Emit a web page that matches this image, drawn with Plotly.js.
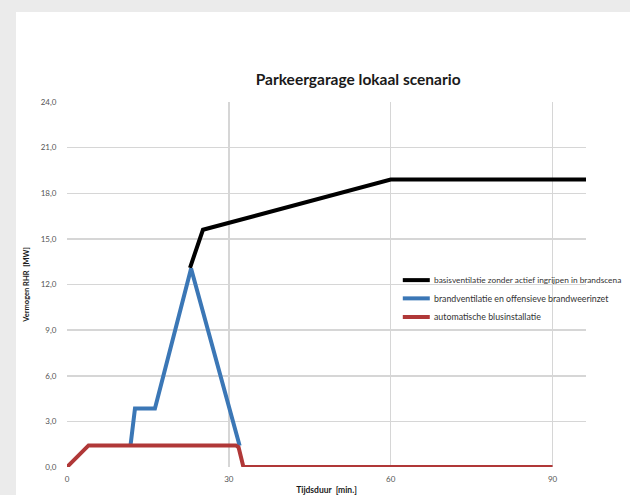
<!DOCTYPE html>
<html><head><meta charset="utf-8">
<script src="https://cdn.plot.ly/plotly-3.0.1.min.js"></script>
<style>
html,body{margin:0;padding:0;background:#ebebeb;width:630px;height:495px;overflow:hidden;}
#chart{position:absolute;left:16px;top:12px;width:614px;height:483px;background:#fff;}
</style></head><body>
<div id="chart"></div>
<script>
const seriesNames = ['basisventilatie zonder actief ingrijpen in brandscena',
                     'brandventilatie en offensieve brandweerinzet',
                     'automatische blusinstallatie'];
const seriesColors = ['#000000', '#3b77b6', '#b03838'];
const blackX = [22.8, 25.2, 60, 96.3];
const blackY = [13.1, 15.6, 18.9, 18.9];
const blueX = [11.8, 12.6, 16.3, 23.0, 32.0];
const blueY = [1.5, 3.85, 3.85, 13.05, 1.4];
const redX = [0, 4.0, 31.3, 31.8, 32.7, 90];
const redY = [0, 1.42, 1.42, 1.3, 0, 0];
const xTicks = [0, 30, 60, 90];
const yTicks = [0, 3, 6, 9, 12, 15, 18, 21, 24];

const font = 'Lato, "Liberation Sans", sans-serif';
const xs = [blackX, blueX, redX], ys = [blackY, blueY, redY];
const traces = xs.map((x, i) => ({x: x, y: ys[i], name: seriesNames[i], mode: 'lines',
  line: {color: seriesColors[i], width: 4}, showlegend: false}));

// manual legend (annotations + shapes in paper coords) so the plot area is not shrunk
const legY = [0.512, 0.462, 0.411];
const legSize = [8.3, 8.8, 8.8];
const shapes = [], annotations = [];
seriesNames.forEach((n, i) => {
  shapes.push({type: 'line', xref: 'paper', yref: 'paper', x0: 0.647, x1: 0.699, y0: legY[i], y1: legY[i],
               line: {color: seriesColors[i], width: 4}});
  annotations.push({xref: 'paper', yref: 'paper', x: 0.703, y: legY[i], xanchor: 'left', yanchor: 'middle',
                    text: n, showarrow: false, font: {family: font, size: legSize[i], color: '#333333'}});
});

const layout = {
  width: 614, height: 483,
  margin: {l: 51, r: 44, t: 90, b: 28},
  paper_bgcolor: '#ffffff', plot_bgcolor: '#ffffff',
  separators: ',.',
  showlegend: false,
  shapes: shapes, annotations: annotations,
  title: {text: '<b>Parkeergarage lokaal scenario</b>', font: {family: font, size: 15.5, color: '#1a1a1a'},
          x: 0.561, xref: 'paper', xanchor: 'center', y: 1 - 68/483, yanchor: 'middle'},
  xaxis: {range: [0, 96.2], tickvals: xTicks, ticktext: xTicks.map(String), showgrid: true,
          gridcolor: '#d6d6d6', gridwidth: 1.5, zeroline: false, showline: false,
          ticks: 'outside', ticklen: 4, tickcolor: 'rgba(0,0,0,0)',
          tickfont: {family: font, size: 8, color: '#555555'},
          title: {text: '<b>Tijdsduur  [min.]</b>', font: {family: font, size: 8.5, color: '#1a1a1a'}, standoff: 4}},
  yaxis: {range: [0, 24], tickvals: yTicks, tickformat: '.1f', showgrid: true,
          gridcolor: '#d6d6d6', gridwidth: 1.5, zeroline: false, showline: false,
          ticks: 'outside', ticklen: 8, tickcolor: 'rgba(0,0,0,0)',
          tickfont: {family: font, size: 8, color: '#555555'},
          title: {text: '<b>Vermogen RHR  [MW]</b>', font: {family: font, size: 7.5, color: '#1a1a1a'}, standoff: 10}}
};
Plotly.newPlot('chart', traces, layout, {displayModeBar: false, staticPlot: true});
</script>
</body></html>
